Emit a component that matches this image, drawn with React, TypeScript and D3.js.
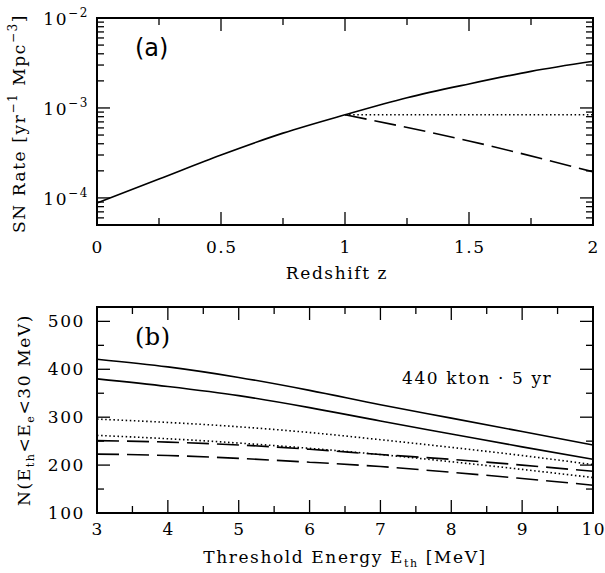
import React from "react";
import * as d3 from "d3";

// Panel (a): supernova rate vs redshift
const zSolid = [0, 0.25, 0.5, 0.75, 1, 1.25, 1.5, 1.75, 2];
const rateSolid = [8.8e-5, 1.62e-4, 3.0e-4, 5.25e-4, 8.4e-4, 1.3e-3, 1.85e-3, 2.55e-3, 3.3e-3];
const zFlat = [1, 2];
const rateFlat = [8.4e-4, 8.4e-4];
const zFall = [1, 1.5, 2];
const rateFall = [8.4e-4, 4.3e-4, 1.95e-4];
const zTicks = [0, 0.5, 1, 1.5, 2];

// Panel (b): event counts above threshold
const eth = [3, 4, 5, 6, 7, 8, 9, 10];
const solidHigh = [421, 405, 383, 356, 326, 298, 270, 242];
const solidLow = [380, 364, 345, 320, 292, 265, 238, 212];
const dottedHigh = [296, 289, 280, 268, 253, 237, 220, 201];
const dottedLow = [262, 255, 246, 235, 222, 207, 191, 174];
const dashedHigh = [251, 248, 242, 233, 222, 212, 200, 187];
const dashedLow = [223, 220, 214, 206, 197, 185, 172, 158];
const ethTicks = [3, 4, 5, 6, 7, 8, 9, 10];
const nTicks = [100, 200, 300, 400, 500];

const SERIF = "DejaVu Serif";
const W = 605;
const H = 573;
const L = 97;
const R = 593;

const DASH = "22,8";
const DOT = "1.5,2.6";
const LS = 1.6;

function Frame({ x0, x1, y0, y1 }: { x0: number; x1: number; y0: number; y1: number }) {
  return <rect x={x0} y={y0} width={x1 - x0} height={y1 - y0} fill="none" stroke="#000" strokeWidth={2} />;
}

export default function App() {
  // ---- panel (a) scales
  const topA = 18;
  const botA = 225;
  const xa = d3.scaleLinear().domain([0, 2]).range([L, R]);
  const ya = d3.scaleLog().domain([5e-5, 1e-2]).range([botA, topA]);

  // ---- panel (b) scales
  const topB = 307;
  const botB = 513;
  const xb = d3.scaleLinear().domain([3, 10]).range([L, R]);
  const yb = d3.scaleLinear().domain([100, 530]).range([botB, topB]);

  const lineA = (zs: number[], vs: number[]) =>
    d3
      .line<number>()
      .x((_, i) => xa(zs[i]))
      .y((d) => ya(d))
      .curve(d3.curveMonotoneX)(vs) as string;

  const lineB = (vs: number[]) =>
    d3
      .line<number>()
      .x((_, i) => xb(eth[i]))
      .y((d) => yb(d))
      .curve(d3.curveMonotoneX)(vs) as string;

  const MAJ = 13;
  const MIN = 7;

  // log ticks for panel (a)
  const logTicks: { v: number; major: boolean }[] = [];
  for (let e = -5; e <= -2; e++) {
    for (let m = 1; m <= 9; m++) {
      const v = m * Math.pow(10, e);
      if (v >= 5e-5 * 0.999 && v <= 1e-2 * 1.001) logTicks.push({ v, major: m === 1 });
    }
  }
  const zMinor = d3.range(0, 2.001, 0.25);
  const ethMinor = d3.range(3, 10.001, 0.5);
  const nMinor = d3.range(100, 530, 50);

  const txt = { fontFamily: SERIF, fill: "#000", letterSpacing: LS } as const;

  return (
    <svg width={W} height={H} style={{ position: "absolute", left: 0, top: 0 }}>
      <rect width={W} height={H} fill="#fff" />

      {/* ===== panel (a) ===== */}
      <g>
        {zMinor.map((v) => {
          const major = Math.abs(v * 2 - Math.round(v * 2)) < 1e-6;
          const len = major ? MAJ : MIN;
          return (
            <g key={"za" + v} stroke="#000" strokeWidth={1.3}>
              <line x1={xa(v)} x2={xa(v)} y1={botA} y2={botA - len} />
              <line x1={xa(v)} x2={xa(v)} y1={topA} y2={topA + len} />
            </g>
          );
        })}
        {logTicks.map((t) => {
          const len = t.major ? MAJ : MIN;
          return (
            <g key={"ya" + t.v} stroke="#000" strokeWidth={1.3}>
              <line x1={L} x2={L + len} y1={ya(t.v)} y2={ya(t.v)} />
              <line x1={R} x2={R - len} y1={ya(t.v)} y2={ya(t.v)} />
            </g>
          );
        })}
        <Frame x0={L} x1={R} y0={topA} y1={botA} />

        <path d={lineA(zSolid, rateSolid)} fill="none" stroke="#000" strokeWidth={1.6} />
        <path d={lineA(zFlat, rateFlat)} fill="none" stroke="#000" strokeWidth={1.6} strokeDasharray={DOT} />
        <path d={lineA(zFall, rateFall)} fill="none" stroke="#000" strokeWidth={1.6} strokeDasharray={DASH} />

        {zTicks.map((v) => (
          <text key={"zl" + v} x={xa(v) + LS / 2} y={253} textAnchor="middle" fontSize={17} style={txt}>
            {String(v)}
          </text>
        ))}
        {[-4, -3, -2].map((e) => (
          <text key={"yl" + e} x={89} y={ya(Math.pow(10, e)) + 7} textAnchor="end" fontSize={17} style={txt}>
            10
            <tspan fontSize={12} dy={-8}>
              {"\u2212" + -e}
            </tspan>
          </text>
        ))}
        <text x={(L + R) / 2 - 8} y={279} textAnchor="middle" fontSize={17} style={txt}>
          Redshift  z
        </text>
        <text
          transform={`translate(25,${(topA + botA) / 2 + 2}) rotate(-90)`}
          textAnchor="middle"
          fontSize={17}
          style={txt}
        >
          SN Rate [yr
          <tspan fontSize={12} dy={-8}>
            {"\u22121"}
          </tspan>
          <tspan dy={8}> Mpc</tspan>
          <tspan fontSize={12} dy={-8}>
            {"\u22123"}
          </tspan>
          <tspan dy={8}>]</tspan>
        </text>
        <text x={135} y={56} fontSize={24} style={{ fontFamily: "DejaVu Sans", fill: "#000" }}>
          (a)
        </text>
      </g>

      {/* ===== panel (b) ===== */}
      <g>
        {ethMinor.map((v) => {
          const major = Math.abs(v - Math.round(v)) < 1e-6;
          const len = major ? MAJ : MIN;
          return (
            <g key={"xb" + v} stroke="#000" strokeWidth={1.3}>
              <line x1={xb(v)} x2={xb(v)} y1={botB} y2={botB - len} />
              <line x1={xb(v)} x2={xb(v)} y1={topB} y2={topB + len} />
            </g>
          );
        })}
        {nMinor.map((v) => {
          const major = v % 100 === 0;
          const len = major ? MAJ : MIN;
          return (
            <g key={"yb" + v} stroke="#000" strokeWidth={1.3}>
              <line x1={L} x2={L + len} y1={yb(v)} y2={yb(v)} />
              <line x1={R} x2={R - len} y1={yb(v)} y2={yb(v)} />
            </g>
          );
        })}
        <Frame x0={L} x1={R} y0={topB} y1={botB} />

        <path d={lineB(solidHigh)} fill="none" stroke="#000" strokeWidth={1.6} />
        <path d={lineB(solidLow)} fill="none" stroke="#000" strokeWidth={1.6} />
        <path d={lineB(dottedHigh)} fill="none" stroke="#000" strokeWidth={1.6} strokeDasharray={DOT} />
        <path d={lineB(dottedLow)} fill="none" stroke="#000" strokeWidth={1.6} strokeDasharray={DOT} />
        <path d={lineB(dashedHigh)} fill="none" stroke="#000" strokeWidth={1.6} strokeDasharray={DASH} />
        <path d={lineB(dashedLow)} fill="none" stroke="#000" strokeWidth={1.6} strokeDasharray={DASH} />

        {ethTicks.map((v) => (
          <text key={"el" + v} x={xb(v) + LS / 2} y={535} textAnchor="middle" fontSize={17} style={txt}>
            {String(v)}
          </text>
        ))}
        {nTicks.map((v) => (
          <text key={"nl" + v} x={85} y={yb(v) + 6} textAnchor="end" fontSize={17} style={txt}>
            {String(v)}
          </text>
        ))}
        <text x={(L + R) / 2} y={563} textAnchor="middle" fontSize={17} style={txt}>
          Threshold Energy E
          <tspan fontSize={11} dy={4}>
            th
          </tspan>
          <tspan dy={-4}> [MeV]</tspan>
        </text>
        <text
          transform={`translate(30,${(topB + botB) / 2}) rotate(-90)`}
          textAnchor="middle"
          fontSize={17}
          style={txt}
        >
          N(E
          <tspan fontSize={11} dy={4}>
            th
          </tspan>
          <tspan dy={-4}>{"<E"}</tspan>
          <tspan fontSize={11} dy={4}>
            e
          </tspan>
          <tspan dy={-4}>{"<30 MeV)"}</tspan>
        </text>
        <text x={135} y={345} fontSize={24} style={{ ...txt, letterSpacing: 0.5 }}>
          (b)
        </text>
        <text x={402} y={384} fontSize={17} style={txt}>
          440 kton · 5 yr
        </text>
      </g>
    </svg>
  );
}
